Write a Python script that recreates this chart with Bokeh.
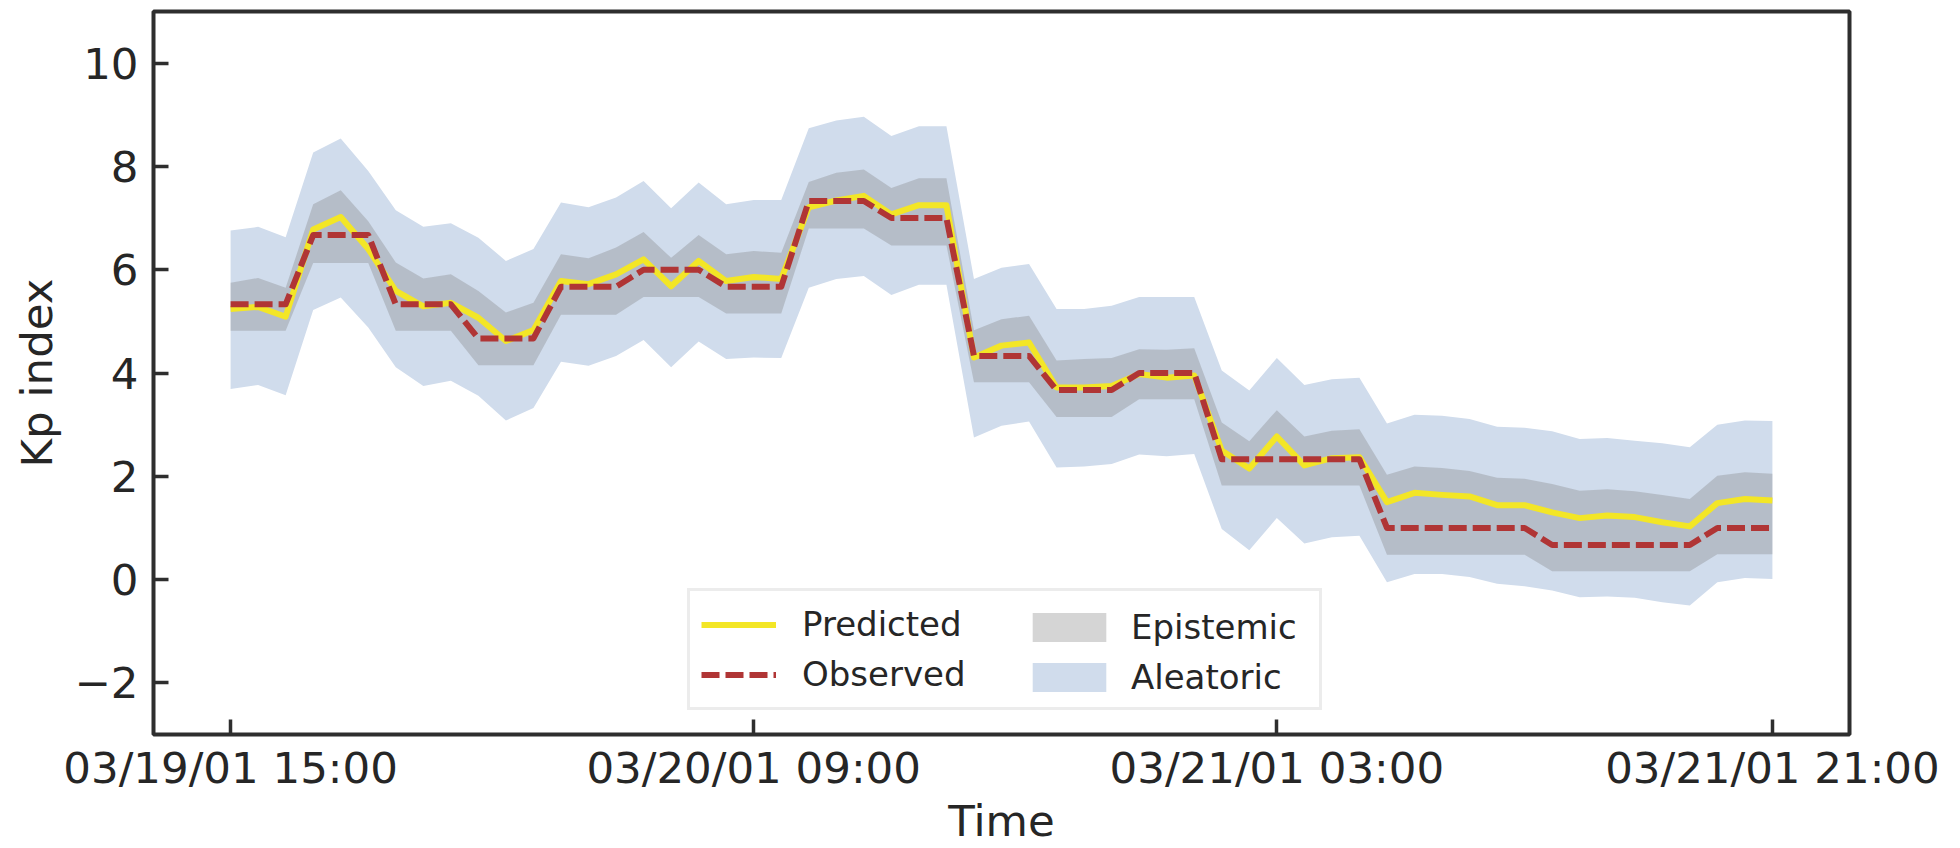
from bokeh.plotting import figure
from bokeh.models import Range1d, FixedTicker, Legend, LegendItem, ColumnDataSource
from bokeh.embed import file_html
from bokeh.resources import INLINE

# sample index (hourly steps)
idx = list(range(57))

tick_pos = [0, 19, 38, 56]
tick_labels = ["03/19/01 15:00", "03/20/01 09:00", "03/21/01 03:00", "03/21/01 21:00"]
y_ticks = [-2, 0, 2, 4, 6, 8, 10]

predicted = [5.24, 5.28, 5.09, 6.78, 7.02, 6.40, 5.59, 5.29, 5.36, 5.07, 4.62, 4.83,
             5.78, 5.72, 5.91, 6.20, 5.68, 6.17, 5.78, 5.86, 5.82, 7.21, 7.34, 7.43,
             7.07, 7.25, 7.25, 4.30, 4.53, 4.59, 3.72, 3.72, 3.75, 3.98, 3.91, 3.95,
             2.50, 2.15, 2.77, 2.21, 2.35, 2.37, 1.50, 1.68, 1.64, 1.61, 1.44, 1.44,
             1.30, 1.19, 1.24, 1.21, 1.11, 1.03, 1.48, 1.56, 1.53]

observed = [5.33, 5.33, 5.33, 6.67, 6.67, 6.67, 5.33, 5.33, 5.33, 4.67, 4.67, 4.67,
            5.67, 5.67, 5.67, 6.00, 6.00, 6.00, 5.67, 5.67, 5.67, 7.33, 7.33, 7.33,
            7.00, 7.00, 7.00, 4.33, 4.33, 4.33, 3.67, 3.67, 3.67, 4.00, 4.00, 4.00,
            2.33, 2.33, 2.33, 2.33, 2.33, 2.33, 1.00, 1.00, 1.00, 1.00, 1.00, 1.00,
            0.67, 0.67, 0.67, 0.67, 0.67, 0.67, 1.00, 1.00, 1.00]

epistemic_upper = [5.75, 5.84, 5.65, 7.27, 7.54, 6.94, 6.14, 5.83, 5.91, 5.59, 5.17, 5.36,
                   6.30, 6.22, 6.43, 6.73, 6.23, 6.67, 6.30, 6.36, 6.33, 7.70, 7.88, 7.94,
                   7.58, 7.77, 7.77, 4.83, 5.04, 5.11, 4.24, 4.27, 4.29, 4.46, 4.45, 4.48,
                   3.04, 2.68, 3.28, 2.77, 2.88, 2.91, 2.03, 2.19, 2.16, 2.10, 1.97, 1.95,
                   1.85, 1.72, 1.75, 1.71, 1.64, 1.56, 2.01, 2.08, 2.05]

epistemic_lower = [4.82, 4.82, 4.82, 6.13, 6.13, 6.13, 4.82, 4.82, 4.82, 4.15, 4.15, 4.15,
                   5.13, 5.13, 5.13, 5.47, 5.47, 5.47, 5.15, 5.15, 5.15, 6.80, 6.80, 6.80,
                   6.47, 6.47, 6.47, 3.82, 3.82, 3.82, 3.15, 3.15, 3.15, 3.49, 3.49, 3.49,
                   1.82, 1.82, 1.82, 1.82, 1.82, 1.82, 0.48, 0.48, 0.48, 0.48, 0.48, 0.48,
                   0.16, 0.16, 0.16, 0.16, 0.16, 0.16, 0.49, 0.49, 0.49]

aleatoric_upper = [6.76, 6.83, 6.63, 8.27, 8.54, 7.91, 7.15, 6.83, 6.90, 6.62, 6.17, 6.40,
                   7.30, 7.21, 7.40, 7.72, 7.19, 7.69, 7.27, 7.35, 7.35, 8.74, 8.89, 8.96,
                   8.59, 8.78, 8.78, 5.82, 6.04, 6.11, 5.24, 5.24, 5.30, 5.47, 5.47, 5.47,
                   4.05, 3.66, 4.29, 3.77, 3.88, 3.91, 3.02, 3.19, 3.17, 3.11, 2.96, 2.94,
                   2.87, 2.72, 2.74, 2.69, 2.64, 2.56, 3.00, 3.08, 3.07]

aleatoric_lower = [3.69, 3.77, 3.57, 5.22, 5.46, 4.88, 4.11, 3.75, 3.85, 3.56, 3.08, 3.32,
                   4.22, 4.14, 4.33, 4.64, 4.11, 4.61, 4.27, 4.30, 4.29, 5.65, 5.82, 5.88,
                   5.51, 5.71, 5.71, 2.75, 2.98, 3.06, 2.17, 2.19, 2.24, 2.42, 2.39, 2.43,
                   0.98, 0.57, 1.19, 0.70, 0.82, 0.85, -0.05, 0.11, 0.11, 0.05, -0.08, -0.13,
                   -0.21, -0.34, -0.33, -0.35, -0.44, -0.50, -0.05, 0.03, 0.01]

src = ColumnDataSource(dict(x=idx, pred=predicted, obs=observed,
                            eu=epistemic_upper, el=epistemic_lower,
                            au=aleatoric_upper, al=aleatoric_lower))

TEXT = "#262626"
SPINE = "#2e2e2e"
FONT = "DejaVu Sans"

p = figure(width=1960, height=848, output_backend="svg", toolbar_location=None,
           x_range=Range1d(-2.8, 58.8), y_range=Range1d(-3, 11),
           min_border_left=153, min_border_right=111, min_border_top=11,
           min_border_bottom=114, background_fill_color="white",
           border_fill_color="white")

r_ale = p.varea(x="x", y1="al", y2="au", source=src, fill_color="#d0dcec", fill_alpha=1.0)
r_epi = p.varea(x="x", y1="el", y2="eu", source=src, fill_color="#808080", fill_alpha=0.33)
r_pred = p.line(x="x", y="pred", source=src, line_color="#f3e626", line_width=6,
                line_join="round")
r_obs = p.line(x="x", y="obs", source=src, line_color="#b03535", line_width=6,
               line_dash="18 6", line_join="round", line_cap="butt")

p.xgrid.visible = False
p.ygrid.visible = False
p.outline_line_color = SPINE
p.outline_line_width = 4
p.outline_line_alpha = 1.0

p.xaxis.ticker = FixedTicker(ticks=tick_pos)
p.xaxis.major_label_overrides = {t: l for t, l in zip(tick_pos, tick_labels)}
p.yaxis.ticker = FixedTicker(ticks=y_ticks)
p.yaxis.major_label_overrides = {t: ("\u2212" + str(-t) if t < 0 else str(t)) for t in y_ticks}

for ax in (p.xaxis[0], p.yaxis[0]):
    ax.axis_line_color = None
    ax.major_tick_in = 15
    ax.major_tick_out = 0
    ax.major_tick_line_width = 3.5
    ax.major_tick_line_color = SPINE
    ax.minor_tick_line_color = None
    ax.major_label_text_font = FONT
    ax.major_label_text_font_size = "43.5px"
    ax.major_label_text_color = TEXT
    ax.axis_label_text_font = FONT
    ax.axis_label_text_font_size = "43.5px"
    ax.axis_label_text_font_style = "normal"
    ax.axis_label_text_color = TEXT

p.xaxis.axis_label = "Time"
p.yaxis.axis_label = "Kp index"
p.xaxis.major_label_standoff = 8
p.xaxis.axis_label_standoff = 0
p.yaxis.major_label_standoff = 15
p.yaxis.axis_label_standoff = 9

common = dict(spacing=6, padding=11, margin=0, label_height=44,
              border_line_color="#d9d9d9", border_line_width=3,
              label_text_font=FONT, label_text_font_size="34px",
              label_text_color=TEXT)

# left column (lines) carries the visible frame of the whole legend
legend_a = Legend(items=[LegendItem(label="Predicted", renderers=[r_pred]),
                         LegendItem(label="Observed", renderers=[r_obs])],
                  location=(534, 24), glyph_width=75, glyph_height=29,
                  label_standoff=26, label_width=506,
                  background_fill_color="white", background_fill_alpha=1.0,
                  **common)
# right column (bands)
legend_b = Legend(items=[LegendItem(label="Epistemic", renderers=[r_epi]),
                         LegendItem(label="Aleatoric", renderers=[r_ale])],
                  location=(859, 24), glyph_width=92, glyph_height=36,
                  label_standoff=16, border_line_alpha=0.0,
                  background_fill_alpha=0.0, **common)
p.add_layout(legend_a)
p.add_layout(legend_b)

open("out.html", "w").write(file_html(p, INLINE))
